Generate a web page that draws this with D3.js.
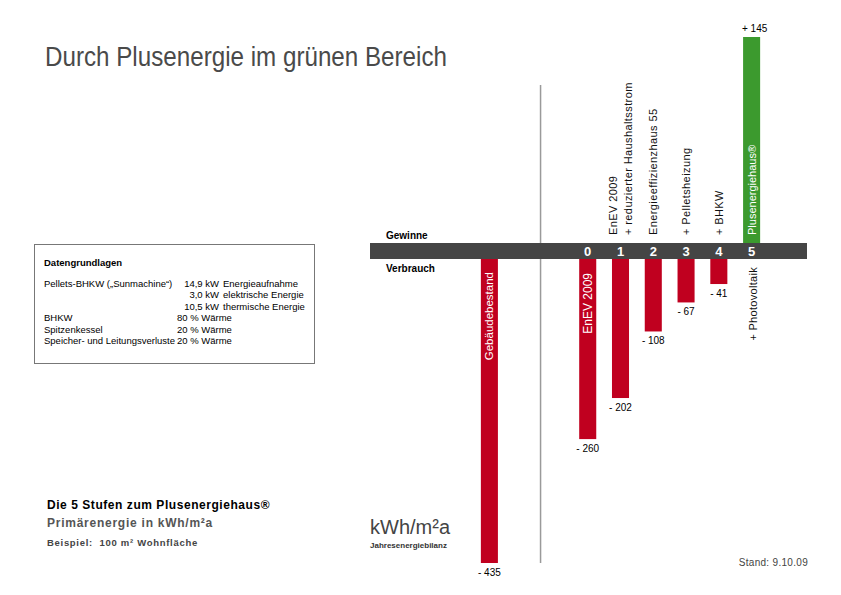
<!DOCTYPE html>
<html lang="de">
<head>
    <meta charset="UTF-8">
    <title>Durch Plusenergie im grünen Bereich</title>
    <script src="https://d3js.org/d3.v7.min.js"></script>
    <style>
        body { margin: 0; background: #fff; }
        text { font-family: "Liberation Sans", Arial, sans-serif; }
    </style>
</head>
<body>

<div id="chart"></div>

<script>

// Stufen (0..5) und der Gebäudebestand als Vergleich
const columns = ['Gebäudebestand', '_a', '_b', '0', '1', '2', '3', '4', '5'];
const stages = ['0', '1', '2', '3', '4', '5'];

// Verbrauch (negativ, kWh/m²a)
const lossKeys = ['Gebäudebestand', '0', '1', '2', '3', '4'];
const lossValues = [435, 260, 202, 108, 67, 41];

// Gewinn
const gainKeys = ['5'];
const gainValues = [145];

// Beschriftungen über dem Balken (Gewinne-Seite)
const topLabelKeys = ['1', '2', '3', '4'];
const topLabels = [
    ['EnEV 2009', '+ reduzierter Haushaltsstrom'],
    ['Energieeffizienzhaus 55'],
    ['+ Pelletsheizung'],
    ['+ BHKW']
];

// Datengrundlagen
const infoRows = [
    ['Pellets-BHKW („Sunmachine“)', '14,9 kW', 'Energieaufnahme'],
    ['', '3,0 kW', 'elektrische Energie'],
    ['', '10,5 kW', 'thermische Energie'],
    ['BHKW', '80 % Wärme', ''],
    ['Spitzenkessel', '20 % Wärme', ''],
    ['Speicher- und Leitungsverluste', '20 % Wärme', '']
];

const width = 841;
const height = 595;
const red = '#c0001f';
const green = '#3c9a2e';

const svg = d3.select('#chart').append('svg')
    .attr('width', width)
    .attr('height', height);

// Scales
const x = d3.scaleBand()
    .domain(columns)
    .range([473, 768])
    .paddingInner(0.48)
    .paddingOuter(0.24);

const cx = k => x(k) + x.bandwidth() / 2;

const yLoss = d3.scaleLinear().domain([0, 435]).range([255, 563]);
const yGain = d3.scaleLinear().domain([0, 145]).range([255, 37]);

// Title
svg.append('text')
    .attr('x', 45)
    .attr('y', 66)
    .attr('font-size', 27)
    .attr('fill', '#4a4a4a')
    .attr('textLength', 402)
    .attr('lengthAdjust', 'spacingAndGlyphs')
    .text('Durch Plusenergie im grünen Bereich');

// divider line
svg.append('line')
    .attr('x1', x('_b') - x.step() * 0.24 + 2)
    .attr('x2', x('_b') - x.step() * 0.24 + 2)
    .attr('y1', 85)
    .attr('y2', 563)
    .attr('stroke', '#9a9a9a')
    .attr('stroke-width', 1.5);

// loss bars
svg.append('g')
    .selectAll('rect')
    .data(lossValues)
    .join('rect')
    .attr('x', (d, i) => x(lossKeys[i]))
    .attr('y', yLoss(0))
    .attr('width', x.bandwidth())
    .attr('height', d => yLoss(d) - yLoss(0))
    .attr('fill', red);

// gain bars
svg.append('g')
    .selectAll('rect')
    .data(gainValues)
    .join('rect')
    .attr('x', (d, i) => x(gainKeys[i]))
    .attr('y', d => yGain(d))
    .attr('width', x.bandwidth())
    .attr('height', d => yGain(0) - yGain(d))
    .attr('fill', green);

// dark band
svg.append('rect')
    .attr('x', 370)
    .attr('y', 243)
    .attr('width', 437)
    .attr('height', 16)
    .attr('fill', '#454545');

svg.append('g')
    .selectAll('text')
    .data(stages)
    .join('text')
    .attr('x', d => cx(d))
    .attr('y', 256)
    .attr('text-anchor', 'middle')
    .attr('font-size', 13)
    .attr('font-weight', 'bold')
    .attr('fill', '#fff')
    .text(d => d);

svg.append('text')
    .attr('x', 386).attr('y', 239)
    .attr('font-size', 10).attr('font-weight', 'bold')
    .text('Gewinne');

svg.append('text')
    .attr('x', 386).attr('y', 272)
    .attr('font-size', 10).attr('font-weight', 'bold')
    .text('Verbrauch');

// value labels
svg.append('g')
    .selectAll('text')
    .data(lossValues)
    .join('text')
    .attr('x', (d, i) => cx(lossKeys[i]))
    .attr('y', d => yLoss(d) + 13)
    .attr('text-anchor', 'middle')
    .attr('font-size', 10)
    .text(d => '- ' + d);

svg.append('g')
    .selectAll('text')
    .data(gainValues)
    .join('text')
    .attr('x', (d, i) => cx(gainKeys[i]) + 3)
    .attr('y', d => yGain(d) - 5)
    .attr('text-anchor', 'middle')
    .attr('font-size', 10)
    .text(d => '+ ' + d);

// rotated labels above band
const tl = svg.append('g')
    .selectAll('text')
    .data(topLabels)
    .join('text')
    .attr('transform', (d, i) => `translate(${cx(topLabelKeys[i])},235) rotate(-90)`)
    .attr('font-size', 11)
    .attr('letter-spacing', 0.4)
    .attr('fill', '#111');

tl.selectAll('tspan')
    .data(d => d.map((t, j) => ({t, j, n: d.length})))
    .join('tspan')
    .attr('x', 0)
    .attr('y', d => (d.j - (d.n - 1) / 2) * 14.5 + 4)
    .text(d => d.t);

svg.append('text')
    .attr('transform', `translate(${cx('5') + 4},235) rotate(-90)`)
    .attr('font-size', 11)
    .attr('fill', '#fff')
    .text('Plusenergiehaus®');

// rotated labels below band
svg.append('text')
    .attr('transform', `translate(${cx('Gebäudebestand') + 4},272) rotate(-90)`)
    .attr('text-anchor', 'end')
    .attr('font-size', 11.5)
    .attr('fill', '#fff')
    .text('Gebäudebestand');

svg.append('text')
    .attr('transform', `translate(${cx('0') + 4},273) rotate(-90)`)
    .attr('text-anchor', 'end')
    .attr('font-size', 12)
    .attr('fill', '#fff')
    .text('EnEV 2009');

svg.append('text')
    .attr('transform', `translate(${cx('5') + 5},267) rotate(-90)`)
    .attr('text-anchor', 'end')
    .attr('font-size', 11)
    .attr('letter-spacing', 0.3)
    .attr('fill', '#111')
    .text('+ Photovoltaik');

// info box
const box = svg.append('g');
box.append('rect')
    .attr('x', 34.5).attr('y', 244.5)
    .attr('width', 280).attr('height', 119)
    .attr('fill', 'none')
    .attr('stroke', '#777')
    .attr('stroke-width', 1);

box.append('text')
    .attr('x', 44).attr('y', 266)
    .attr('font-size', 9.5).attr('font-weight', 'bold')
    .text('Datengrundlagen');

const rows = box.selectAll('g.row')
    .data(infoRows)
    .join('g')
    .attr('class', 'row')
    .attr('transform', (d, i) => `translate(0,${287 + i * 11.4})`)
    .attr('font-size', 9.5);

rows.append('text').attr('x', 44).text(d => d[0]);
rows.append('text')
    .attr('x', d => d[2] ? 219 : 177)
    .attr('text-anchor', d => d[2] ? 'end' : 'start')
    .text(d => d[1]);
rows.append('text').attr('x', 223).text(d => d[2]);

// bottom left texts
svg.append('text')
    .attr('x', 47).attr('y', 509)
    .attr('font-size', 12).attr('font-weight', 'bold')
    .attr('letter-spacing', 0.55)
    .text('Die 5 Stufen zum Plusenergiehaus®');

svg.append('text')
    .attr('x', 47).attr('y', 527)
    .attr('font-size', 12).attr('font-weight', 'bold')
    .attr('fill', '#555')
    .attr('letter-spacing', 0.75)
    .text('Primärenergie in kWh/m²a');

svg.append('text')
    .attr('x', 47).attr('y', 546)
    .attr('font-size', 9.5).attr('font-weight', 'bold')
    .attr('fill', '#444')
    .attr('letter-spacing', 0.7)
    .attr('xml:space', 'preserve')
    .text('Beispiel:  100 m² Wohnfläche');

svg.append('text')
    .attr('x', 370).attr('y', 534)
    .attr('font-size', 20)
    .attr('fill', '#444')
    .text('kWh/m²a');

svg.append('text')
    .attr('x', 370).attr('y', 548)
    .attr('font-size', 8).attr('font-weight', 'bold')
    .attr('fill', '#333')
    .text('Jahresenergiebilanz');

svg.append('text')
    .attr('x', 808).attr('y', 566)
    .attr('text-anchor', 'end')
    .attr('font-size', 10)
    .attr('fill', '#444')
    .attr('letter-spacing', 0.3)
    .text('Stand: 9.10.09');

</script>
</body>
</html>
